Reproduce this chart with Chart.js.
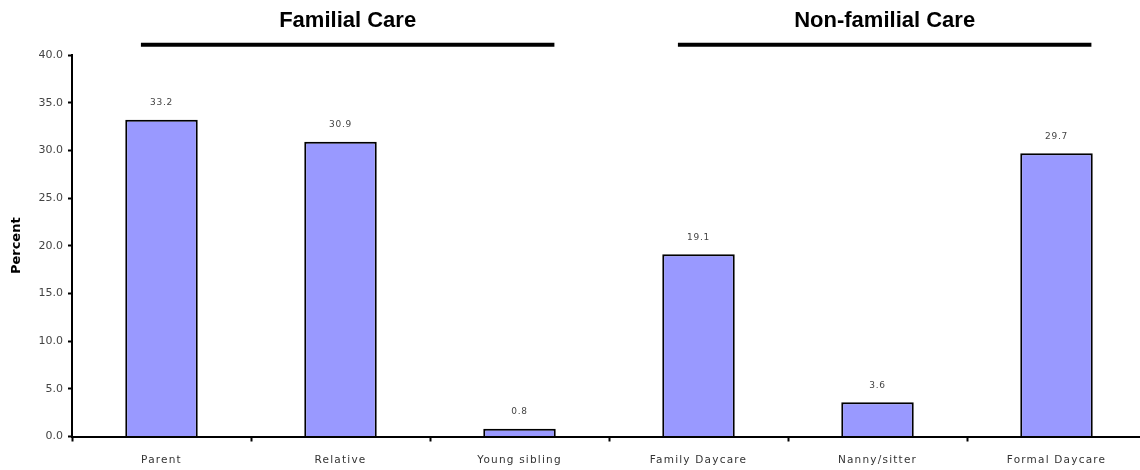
<!DOCTYPE html>
<html>
<head>
<meta charset="utf-8">
<script src="https://cdn.jsdelivr.net/npm/chart.js@4.4.1/dist/chart.umd.min.js"></script>
<style>
  html, body { margin: 0; padding: 0; background: #fff; overflow: hidden; }
  #wrap { width: 1146px; height: 470px; }
</style>
</head>
<body>
<div id="wrap"><canvas id="c" width="1146" height="470"></canvas></div>
<script>
const categories = ['Parent', 'Relative', 'Young sibling', 'Family Daycare', 'Nanny/sitter', 'Formal Daycare'];
const percentValues = [33.2, 30.9, 0.8, 19.1, 3.6, 29.7];
const yTickValues = [0, 5, 10, 15, 20, 25, 30, 35, 40];
const groupNames = ['Familial Care', 'Non-familial Care'];
const groupStart = [0, 3];
const groupEnd = [2, 5];

// Per-scale letter spacing
const LinearScale = Chart.registry.getScale('linear');
const origLinearDraw = LinearScale.prototype.draw;
LinearScale.prototype.draw = function (area) {
  const ctx = this.ctx;
  ctx.save();
  ctx.letterSpacing = '0px';
  origLinearDraw.call(this, area);
  ctx.restore();
};
const CategoryScale = Chart.registry.getScale('category');
const origCatDraw = CategoryScale.prototype.draw;
CategoryScale.prototype.draw = function (area) {
  const ctx = this.ctx;
  ctx.save();
  ctx.letterSpacing = '1.2px';
  origCatDraw.call(this, area);
  ctx.restore();
};

const valueLabels = {
  id: 'valueLabels',
  afterDatasetsDraw(chart) {
    const ctx = chart.ctx;
    const meta = chart.getDatasetMeta(0);
    ctx.save();
    ctx.letterSpacing = '0.8px';
    ctx.font = '9px "DejaVu Sans"';
    ctx.fillStyle = '#444';
    ctx.textAlign = 'center';
    ctx.textBaseline = 'middle';
    meta.data.forEach((bar, i) => {
      ctx.fillText(percentValues[i].toFixed(1), bar.x, bar.y - 17);
    });
    ctx.restore();
  }
};

const groupHeaders = {
  id: 'groupHeaders',
  afterDraw(chart) {
    const ctx = chart.ctx;
    const xs = chart.scales.x;
    const w = xs.getPixelForValue(1) - xs.getPixelForValue(0);
    ctx.save();
    ctx.letterSpacing = '0px';
    groupNames.forEach((name, i) => {
      const x1 = xs.getPixelForValue(groupStart[i]) - 0.115 * w;
      const x2 = xs.getPixelForValue(groupEnd[i]) + 0.195 * w;
      ctx.strokeStyle = '#000';
      ctx.lineWidth = 4;
      ctx.beginPath();
      ctx.moveTo(x1, 44.7);
      ctx.lineTo(x2, 44.7);
      ctx.stroke();
      ctx.fillStyle = '#000';
      ctx.font = 'bold 22px "Liberation Sans"';
      ctx.textAlign = 'center';
      ctx.textBaseline = 'alphabetic';
      ctx.fillText(name, (x1 + x2) / 2, 27);
    });
    ctx.restore();
  }
};

new Chart(document.getElementById('c'), {
  type: 'bar',
  data: {
    labels: categories,
    datasets: [{
      data: percentValues,
      backgroundColor: '#9999FF',
      borderColor: '#000',
      borderWidth: 2,
      borderSkipped: 'bottom',
      categoryPercentage: 1,
      barPercentage: 0.405
    }]
  },
  options: {
    responsive: false,
    animation: false,
    layout: { padding: { top: 55, left: 0, right: 0, bottom: 0 } },
    plugins: { legend: { display: false }, tooltip: { enabled: false } },
    scales: {
      x: {
        grid: { display: true, drawOnChartArea: false, drawTicks: true, tickLength: 5, color: '#000', tickWidth: 2, offset: true },
        border: { display: true, color: '#000', width: 2 },
        ticks: { color: '#333', font: { family: '"DejaVu Sans"', size: 10.5 }, padding: 12, maxRotation: 0, autoSkip: false },
        afterFit(scale) { scale.height = 33.5; }
      },
      y: {
        min: 0, max: 40,
        afterBuildTicks(scale) { scale.ticks = yTickValues.map(v => ({ value: v })); },
        grid: { display: true, drawOnChartArea: false, drawTicks: true, tickLength: 4, color: '#000', tickWidth: 2 },
        border: { display: true, color: '#000', width: 2 },
        ticks: { color: '#444', font: { family: '"DejaVu Sans"', size: 11 }, padding: 5, callback: v => Number(v).toFixed(1) },
        title: { display: true, text: 'Percent', color: '#000', font: { family: '"DejaVu Sans"', size: 13, weight: 'bold' }, padding: { top: 9, bottom: 0 } },
        afterFit(scale) { scale.width = 72; }
      }
    }
  },
  plugins: [valueLabels, groupHeaders]
});
</script>
</body>
</html>
